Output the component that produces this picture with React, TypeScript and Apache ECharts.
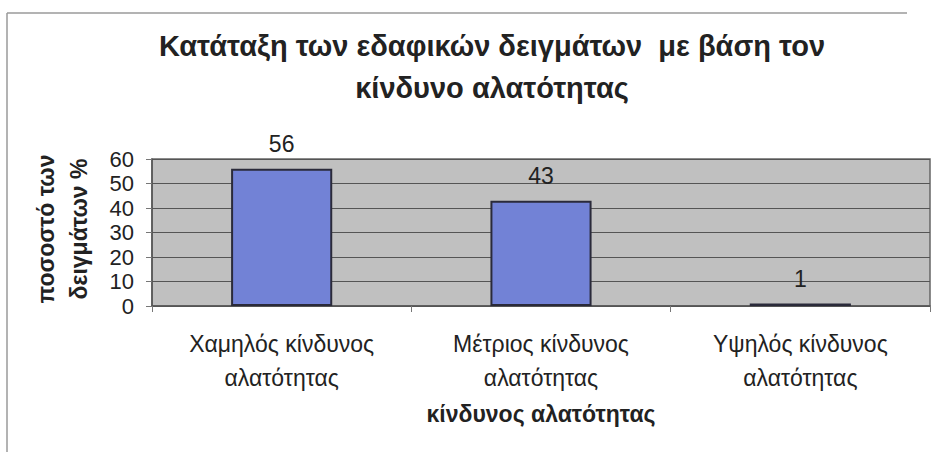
import React, { useEffect, useRef } from "react";
import * as echarts from "echarts";

const titleLines = ["Κατάταξη των εδαφικών δειγμάτων  με βάση τον", "κίνδυνο αλατότητας"];
const categories = ["Χαμηλός κίνδυνος\nαλατότητας", "Μέτριος κίνδυνος\nαλατότητας", "Υψηλός κίνδυνος\nαλατότητας"];
const values = [56, 43, 1];
const xAxisName = "κίνδυνος αλατότητας";
const yAxisNameLines = ["ποσοστό των", "δειγμάτων %"];
const yMin = 0;
const yMax = 60;
const yInterval = 10;

const FONT = "'Liberation Sans', Arial, sans-serif";

export default function App() {
  const ref = useRef<HTMLDivElement>(null);
  useEffect(() => {
    if (!ref.current) return;
    const chart = echarts.init(ref.current, null, { renderer: "svg" });
    chart.setOption({
      animation: false,
      backgroundColor: "#ffffff",
      textStyle: { fontFamily: FONT },
      title: {
        text: titleLines.join("\n"),
        left: 487,
        top: 20,
        textAlign: "center",
        textStyle: { fontFamily: FONT, fontSize: 29, fontWeight: "bold", color: "#222", lineHeight: 42 },
      },
      graphic: [
        { type: "line", shape: { x1: 7, y1: 13, x2: 907, y2: 13 }, style: { stroke: "#9a9a9a", lineWidth: 1.5 } },
        { type: "line", shape: { x1: 7, y1: 13, x2: 7, y2: 452 }, style: { stroke: "#9a9a9a", lineWidth: 1.5 } },
        {
          type: "text",
          x: 62,
          y: 229,
          rotation: Math.PI / 2,
          style: {
            text: yAxisNameLines.join("\n"),
            fontFamily: FONT,
            fontSize: 23,
            fontWeight: "bold",
            lineHeight: 33,
            fill: "#222",
            align: "center",
            verticalAlign: "middle",
          },
        },
      ],
      grid: {
        left: 152,
        right: 9,
        top: 159,
        bottom: 146,
        show: true,
        backgroundColor: "#c0c0c0",
        borderColor: "#666",
        borderWidth: 1.5,
      },
      xAxis: {
        type: "category",
        data: categories,
        name: xAxisName,
        nameLocation: "middle",
        nameGap: 96,
        nameTextStyle: { fontFamily: FONT, fontSize: 23, fontWeight: "bold", color: "#222" },
        axisLine: { show: true, lineStyle: { color: "#555", width: 1.5 } },
        axisTick: { show: true, length: 6, lineStyle: { color: "#777" } },
        axisLabel: { margin: 21, fontFamily: FONT, fontSize: 23, lineHeight: 34, color: "#222" },
      },
      yAxis: {
        type: "value",
        min: yMin,
        max: yMax,
        interval: yInterval,
        axisLine: { show: true, lineStyle: { color: "#555", width: 1.5 } },
        axisTick: { show: true, length: 6, lineStyle: { color: "#777" } },
        axisLabel: { margin: 18, fontFamily: FONT, fontSize: 22, color: "#222" },
        splitLine: { show: true, lineStyle: { color: "#555", width: 1.2 } },
      },
      series: [
        {
          type: "bar",
          data: values,
          barWidth: "39%",
          itemStyle: { color: "#7282d6", borderColor: "#2a2a3a", borderWidth: 2 },
          label: { show: true, position: "top", distance: 13, fontFamily: FONT, fontSize: 23, color: "#222" },
        },
      ],
    });
    return () => chart.dispose();
  }, []);
  return <div ref={ref} style={{ position: "absolute", left: 0, top: 0, width: 939, height: 452 }} />;
}
